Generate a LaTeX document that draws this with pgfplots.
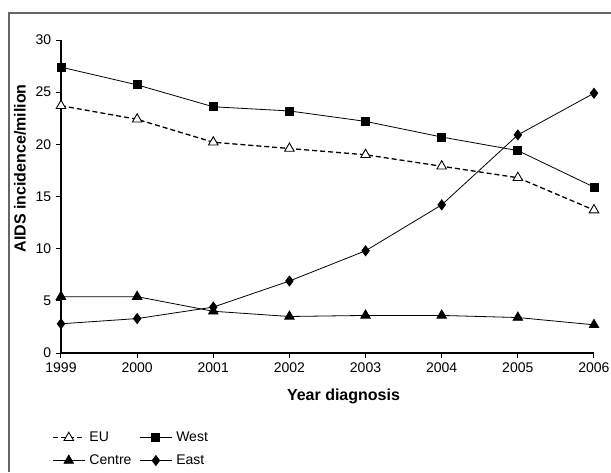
\documentclass[border=0pt]{standalone}
\usepackage{fontspec}
\setmainfont{Liberation Sans}
\usepackage{pgfplots}
\pgfplotsset{compat=1.18}
\begin{document}
\fontsize{14}{16}\selectfont
\begin{tikzpicture}[x=1pt,y=1pt]
\path[use as bounding box] (0,0) rectangle (611,472);
\draw[black!60, line width=1.2pt] (9,0) -- (9,459) -- (611,459);
\begin{axis}[
  at={(61pt,119pt)}, anchor=south west,
  scale only axis, width=533pt, height=313pt,
  xmin=1999, xmax=2006, ymin=0, ymax=30,
  xtick={1999,...,2006}, ytick={0,5,...,30},
  axis lines*=left,
  axis line style={line width=1.2pt},
  tick align=outside, major tick length=5pt,
  tick style={black, line width=1pt},
  /pgf/number format/assume math mode=true,
  x tick label style={/pgf/number format/1000 sep={}},
  xlabel={\fontsize{16}{18}\selectfont\bfseries Year diagnosis},
  ylabel={\fontsize{16}{18}\selectfont\bfseries AIDS incidence/milion},
  x label style={at={(axis description cs:0.53,-0.138)}, anchor=center},
  y label style={at={(axis description cs:-0.077,0.59)}, anchor=center},
  clip=false,
  legend columns=2,
  legend cell align=left,
  legend style={draw=none, fill=none, inner sep=0pt,
    at={(axis description cs:-0.017,-0.245)}, anchor=north west,
    row sep=7pt, font=\fontsize{14}{16}\selectfont,
    nodes={inner xsep=4pt},
    /tikz/every even column/.append style={column sep=4pt}},
  legend image code/.code={\draw[mark repeat=2,mark phase=2] plot coordinates {(0pt,0pt) (16pt,0pt) (32pt,0pt)};},
]
\addplot[black, line width=1.3pt, dash pattern=on 5pt off 3pt, mark=triangle*, mark size=5.5pt, mark options={solid, fill=white, line width=0.9pt}]
  coordinates {(1999,23.7) (2000,22.4) (2001,20.2) (2002,19.6) (2003,19.0) (2004,17.9) (2005,16.8) (2006,13.7)};
\addlegendentry{EU}
\addplot[black, line width=0.8pt, mark=square*, mark size=4pt]
  coordinates {(1999,27.4) (2000,25.7) (2001,23.6) (2002,23.2) (2003,22.2) (2004,20.7) (2005,19.4) (2006,15.9)};
\addlegendentry{West}
\addplot[black, line width=0.8pt, mark=triangle*, mark size=5.5pt]
  coordinates {(1999,5.4) (2000,5.4) (2001,4.0) (2002,3.5) (2003,3.6) (2004,3.6) (2005,3.4) (2006,2.7)};
\addlegendentry{Centre}
\addplot[black, line width=0.8pt, mark=diamond*, mark size=5pt]
  coordinates {(1999,2.8) (2000,3.3) (2001,4.4) (2002,6.9) (2003,9.8) (2004,14.2) (2005,20.9) (2006,24.9)};
\addlegendentry{East}
\end{axis}
\end{tikzpicture}
\end{document}
